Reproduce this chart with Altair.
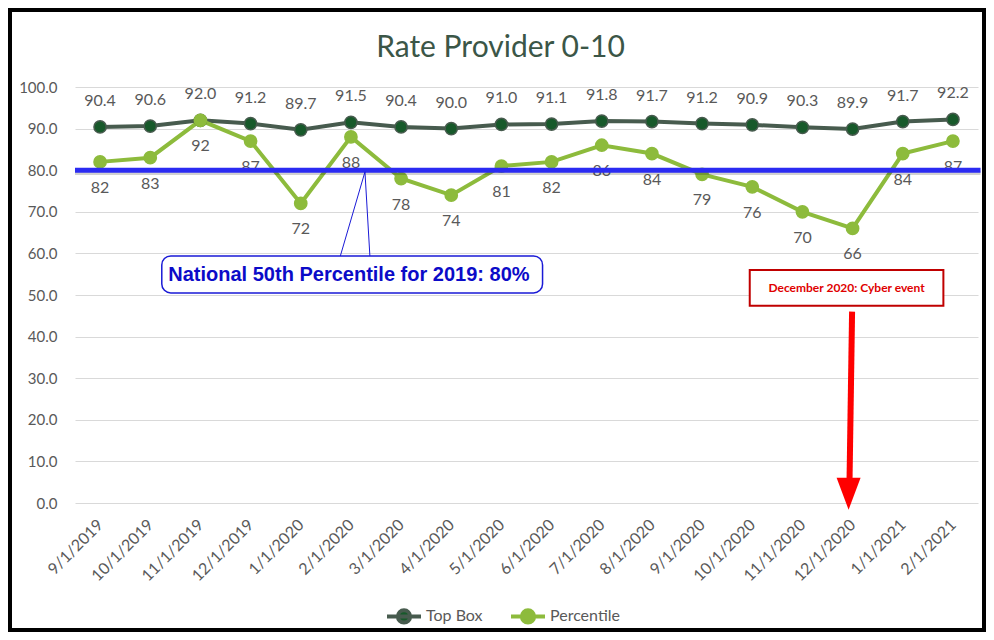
import altair as alt
import pandas as pd

dates = ["9/1/2019", "10/1/2019", "11/1/2019", "12/1/2019", "1/1/2020", "2/1/2020",
         "3/1/2020", "4/1/2020", "5/1/2020", "6/1/2020", "7/1/2020", "8/1/2020",
         "9/1/2020", "10/1/2020", "11/1/2020", "12/1/2020", "1/1/2021", "2/1/2021"]
top_box = [90.4, 90.6, 92.0, 91.2, 89.7, 91.5, 90.4, 90.0, 91.0, 91.1, 91.8, 91.7,
           91.2, 90.9, 90.3, 89.9, 91.7, 92.2]
percentile = [82, 83, 92, 87, 72, 88, 78, 74, 81, 82, 86, 84, 79, 76, 70, 66, 84, 87]
series_names = ["Top Box", "Percentile"]
national_50th = 80
callout_text = "National 50th Percentile for 2019: 80%"
event_text = "December 2020: Cyber event"

rows = []
for i, d in enumerate(dates):
    rows.append({"idx": i, "date": d, "series": "Top Box", "value": top_box[i],
                 "label": f"{top_box[i]:.1f}"})
    rows.append({"idx": i, "date": d, "series": "Percentile", "value": percentile[i],
                 "label": f"{percentile[i]}"})
df = pd.DataFrame(rows)

FONT = "Lato"
GRAY = "#595959"
W, H = 903, 416

label_expr = "[" + ",".join(f"'{d}'" for d in dates) + "][datum.value]"

xscale = alt.Scale(domain=[-0.5, len(dates) - 0.5], nice=False, zero=False)
yscale = alt.Scale(domain=[0, 100], nice=False)

x_enc = alt.X("idx:Q", scale=xscale,
              axis=alt.Axis(values=list(range(len(dates))), labelExpr=label_expr,
                            labelAngle=-45, labelAlign="right", labelBaseline="middle",
                            labelPadding=19, labelFontSize=16, labelFont=FONT,
                            labelColor=GRAY, ticks=False, domain=False, grid=False,
                            title=None, labelOverlap=False))
y_enc = alt.Y("value:Q", scale=yscale,
              axis=alt.Axis(values=list(range(0, 101, 10)), format=".1f",
                            labelFontSize=15, labelFont=FONT, labelColor=GRAY,
                            labelPadding=18, ticks=False, domain=False,
                            gridColor="#d9d9d9", gridWidth=1, title=None))

legend_path = ("M-1,0L1,0M-0.36,0A0.36,0.36,0,1,1,0.36,0"
               "A0.36,0.36,0,1,1,-0.36,0Z")
legend = alt.Legend(title=None, orient="none", legendX=310, legendY=510,
                    direction="horizontal", symbolType=legend_path, symbolSize=1156,
                    symbolStrokeWidth=4, labelFontSize=16, labelFont=FONT,
                    labelColor=GRAY, columnPadding=20, labelOffset=3)

stroke_scale = alt.Scale(domain=series_names, range=["#475b4e", "#8dbb3c"])
fill_scale = alt.Scale(domain=series_names, range=["#17592a", "#8dbb3c"])

base = alt.Chart(df)

lines = base.mark_line(strokeWidth=4).encode(
    x=x_enc, y=y_enc,
    stroke=alt.Stroke("series:N", scale=stroke_scale, legend=legend),
    detail="series:N",
)
points = base.mark_point(filled=True, shape="circle", size=150, opacity=1,
                         strokeWidth=1.5).encode(
    x="idx:Q", y="value:Q",
    fill=alt.Fill("series:N", scale=fill_scale, legend=legend),
    stroke=alt.Stroke("series:N", scale=stroke_scale, legend=legend),
)
top_labels = base.transform_filter(alt.datum.series == "Top Box").mark_text(
    dy=-26, fontSize=16, font=FONT, color=GRAY).encode(
    x="idx:Q", y="value:Q", text="label:N")
pct_labels = base.transform_filter(alt.datum.series == "Percentile").mark_text(
    dy=26, fontSize=16, font=FONT, color=GRAY).encode(
    x="idx:Q", y="value:Q", text="label:N")

# national benchmark line
bench_df = pd.DataFrame({"x": [-0.5], "x2": [len(dates) - 0.45], "y": [national_50th],
                         "ys": [national_50th - 0.7]})
bench_shadow = alt.Chart(bench_df).mark_rule(strokeWidth=4, color="#000000",
                                             opacity=0.18).encode(
    x="x:Q", x2="x2:Q", y="ys:Q")
bench = alt.Chart(bench_df).mark_rule(strokeWidth=5, color="#2b2bf2").encode(
    x="x:Q", x2="x2:Q", y="y:Q")

# callout box with pointer
pointer_df = pd.DataFrame({"x": [4.78, 5.38], "y": [59.0, 59.0],
                           "x2": [5.28, 5.28], "y2": [79.6, 79.6]})
pointer = alt.Chart(pointer_df).mark_rule(strokeWidth=1, color="#1a1ad6").encode(
    x="x:Q", y="y:Q", x2="x2:Q", y2="y2:Q")
callout_df = pd.DataFrame({"x": [1.23], "x2": [8.82], "y": [59.4], "y2": [50.5],
                           "tx": [4.96], "ty": [54.9], "t": [callout_text]})
callout_box = alt.Chart(callout_df).mark_rect(fill="white", stroke="#1a1ad6",
                                              strokeWidth=1.5, cornerRadius=9).encode(
    x="x:Q", x2="x2:Q", y="y:Q", y2="y2:Q")
callout_txt = alt.Chart(callout_df).mark_text(font="Liberation Sans", fontSize=20,
                                              fontWeight="bold", color="#0b0bc8").encode(
    x="tx:Q", y="ty:Q", text="t:N")

# cyber event box and arrow
event_df = pd.DataFrame({"x": [12.95], "x2": [16.81], "y": [56.0], "y2": [47.4],
                         "tx": [14.88], "ty": [51.7], "t": [event_text]})
event_box = alt.Chart(event_df).mark_rect(fill="white", stroke="#c00000",
                                          strokeWidth=2).encode(
    x="x:Q", x2="x2:Q", y="y:Q", y2="y2:Q")
event_txt = alt.Chart(event_df).mark_text(font=FONT, fontSize=12, fontWeight="bold",
                                          color="#e00000").encode(
    x="tx:Q", y="ty:Q", text="t:N")
shaft_df = pd.DataFrame({"x": [14.99], "y": [46.0], "x2": [14.94], "y2": [6.0]})
shaft = alt.Chart(shaft_df).mark_rule(strokeWidth=6, color="#ff0000").encode(
    x="x:Q", y="y:Q", x2="x2:Q", y2="y2:Q")
head_df = pd.DataFrame({"x": [14.92], "y": [2.2]})
head = alt.Chart(head_df).mark_point(shape="M-0.75,-1L0.75,-1L0,1Z", size=1024,
                                     filled=True, color="#ff0000", opacity=1).encode(
    x="x:Q", y="y:Q")

# outer frame
frame = alt.Chart(bench_df).mark_rect(fill=None, stroke="black", strokeWidth=4).encode(
    x=alt.value(-67 + 2), x2=alt.value(W + 8 - 2),
    y=alt.value(-79 + 2), y2=alt.value(H + 129 - 2))

chart = alt.layer(
    lines, points, top_labels, pct_labels, bench_shadow, bench, pointer,
    callout_box, callout_txt, event_box, event_txt, shaft, head, frame
).resolve_scale(
    stroke="shared", fill="shared"
).properties(
    width=W, height=H,
    autosize=alt.AutoSizeParams(type="none"),
    padding={"left": 67, "top": 79, "right": 8, "bottom": 129},
    title=alt.TitleParams("Rate Provider 0-10", fontSize=30, font=FONT,
                          fontWeight="normal", color="#3b5647", anchor="middle",
                          offset=0, dy=55, dx=-26),
).configure_view(stroke=None)

chart.save("out.html", embed_options={"renderer": "svg", "actions": False})
